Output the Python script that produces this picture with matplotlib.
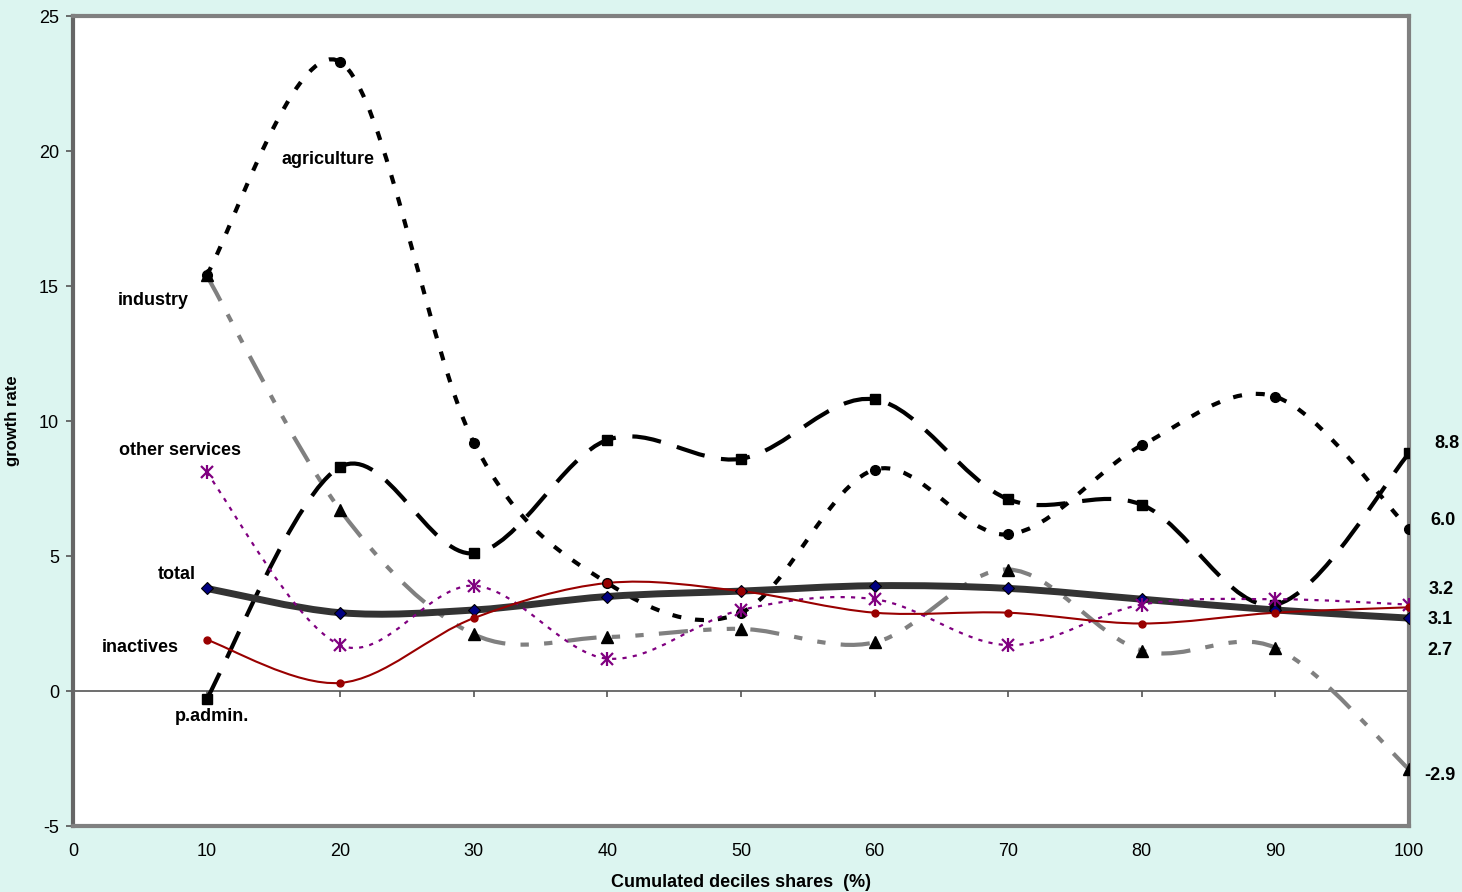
import numpy as np
import matplotlib
matplotlib.use("Agg")
import matplotlib.pyplot as plt
from matplotlib.path import Path
from matplotlib.patches import PathPatch

plt.rcParams['font.family'] = ['Liberation Sans', 'DejaVu Sans']
plt.rcParams['lines.scale_dashes'] = False
plt.rcParams['axes.unicode_minus'] = False

# data
deciles = [10, 20, 30, 40, 50, 60, 70, 80, 90, 100]
agriculture = [15.4, 23.3, 9.2, 4.0, 2.9, 8.2, 5.8, 9.1, 10.9, 6.0]
industry = [15.4, 6.7, 2.1, 2.0, 2.3, 1.8, 4.5, 1.5, 1.6, -2.9]
padmin = [-0.3, 8.3, 5.1, 9.3, 8.6, 10.8, 7.1, 6.9, 3.2, 8.8]
other_services = [8.1, 1.7, 3.9, 1.2, 3.0, 3.4, 1.7, 3.2, 3.4, 3.2]
total = [3.8, 2.9, 3.0, 3.5, 3.7, 3.9, 3.8, 3.4, 3.0, 2.7]
inactives = [1.9, 0.3, 2.7, 4.0, 3.7, 2.9, 2.9, 2.5, 2.9, 3.1]

x_ticks = [0, 10, 20, 30, 40, 50, 60, 70, 80, 90, 100]
y_ticks = [-5, 0, 5, 10, 15, 20, 25]

bg = '#DCF5F0'


def smooth_path(xs, ys):
    # excel-like smoothed line (catmull-rom as cubic bezier)
    pts = np.column_stack([xs, ys]).astype(float)
    n = len(pts)
    verts = [pts[0]]
    codes = [Path.MOVETO]
    for i in range(n - 1):
        p0 = pts[i - 1] if i > 0 else pts[i]
        p1 = pts[i]
        p2 = pts[i + 1]
        p3 = pts[i + 2] if i + 2 < n else pts[i + 1]
        verts += [p1 + (p2 - p0) / 6, p2 - (p3 - p1) / 6, p2]
        codes += [Path.CURVE4] * 3
    return Path(verts, codes)


def add_curve(ax, ys, color, lw, ls, z):
    patch = PathPatch(smooth_path(deciles, ys), fill=False, edgecolor=color,
                      linewidth=lw, linestyle=ls, zorder=z, capstyle='butt')
    ax.add_patch(patch)


fig = plt.figure(figsize=(14.62, 8.92), dpi=100, facecolor=bg)
ax = fig.add_axes([0.04993, 0.07399, 0.91382, 0.90807])
ax.set_facecolor('white')
ax.set_xlim(0, 100)
ax.set_ylim(-5, 25)

# lines
add_curve(ax, industry, '#808080', 3.0, (0, (21, 11, 6, 11, 6, 11)), 2)
add_curve(ax, agriculture, 'black', 3.0, (0, (6.5, 10)), 3)
add_curve(ax, padmin, 'black', 3.0, (0, (21, 12)), 3)
add_curve(ax, total, '#333333', 5.0, '-', 4)
add_curve(ax, other_services, '#800080', 1.6, (0, (3, 4.5)), 5)
add_curve(ax, inactives, '#990000', 1.5, '-', 6)

# markers
ax.plot(deciles, industry, ls='none', marker='^', ms=8, color='black', zorder=7)
ax.plot(deciles, agriculture, ls='none', marker='o', ms=7, color='black', zorder=7.5)
ax.plot(deciles, padmin, ls='none', marker='s', ms=7, color='black', zorder=7)
ax.plot(deciles, total, ls='none', marker='D', ms=6, markerfacecolor='#000080',
        markeredgecolor='black', markeredgewidth=0.8, zorder=8)
ax.plot(deciles, other_services, ls='none', marker='x', ms=8, mew=1.6, color='#800080', zorder=9)
ax.plot(deciles, other_services, ls='none', marker='|', ms=10, mew=1.6, color='#800080', zorder=9)
ax.plot(deciles, inactives, ls='none', marker='o', ms=5, color='#990000', zorder=10)

# zero line with the x tick marks on it
ax.axhline(0, color='#555555', lw=1.2, zorder=1)
ax.vlines(x_ticks[1:], -0.22, 0, color='#555555', lw=1.2, zorder=1)

# series names
name_style = dict(fontsize=13, fontweight='bold', ha='center', va='center', zorder=11)
ax.text(19.1, 19.7, 'agriculture', **name_style)
ax.text(6.0, 14.45, 'industry', **name_style)
ax.text(8.0, 8.9, 'other services', **name_style)
ax.text(7.8, 4.3, 'total', **name_style)
ax.text(5.0, 1.6, 'inactives', **name_style)
ax.text(10.4, -0.95, 'p.admin.', **name_style)

# end value labels
end_series = [padmin, agriculture, other_services, inactives, total, industry]
end_dy = [10, 9, 15, -12, -32, -6]
end_dx = [38, 34, 32, 31, 31, 31]
for s, dy, dx in zip(end_series, end_dy, end_dx):
    ax.annotate('%.1f' % s[-1], xy=(deciles[-1], s[-1]), xytext=(dx, dy),
                textcoords='offset pixels', ha='center', va='center',
                fontsize=13, fontweight='bold', annotation_clip=False)

ax.set_xticks(x_ticks)
ax.set_yticks(y_ticks)
ax.tick_params(axis='x', length=0, pad=12, labelsize=13)
ax.tick_params(axis='y', length=5, width=1.2, color='#555555', direction='out',
               pad=5, labelsize=13)

for side in ['top', 'right', 'bottom']:
    ax.spines[side].set_color('#808080')
    ax.spines[side].set_linewidth(3)
ax.spines['left'].set_color('#666666')
ax.spines['left'].set_linewidth(3)

ax.set_xlabel('Cumulated deciles shares  (%)', fontsize=13, fontweight='bold', labelpad=10)
ax.set_ylabel('growth rate', fontsize=12, fontweight='bold')
ax.yaxis.set_label_coords(-0.04, 0.5)

fig.savefig('out.png', dpi=100, facecolor=bg)
